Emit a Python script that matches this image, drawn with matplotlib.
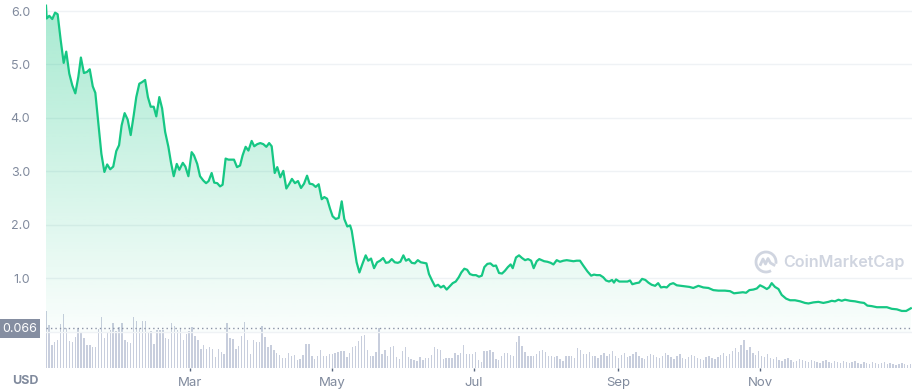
import numpy as np
import matplotlib
matplotlib.use("Agg")
from matplotlib import pyplot as plt
from matplotlib.patches import Rectangle, Arc

plt.rcParams['font.family'] = ['Inter', 'DejaVu Sans']

# days counted from 2021-12-29
price_days = [0, 0.3, 1.4, 2.7, 3.9, 5.0, 6.3, 7.6, 8.7, 10.0, 11.3, 12.6, 13.9, 15.0, 16.3, 17.6,
              18.8, 20.1, 21.2, 22.5, 23.8, 25.1, 26.3, 27.6, 28.9, 30.2, 31.4, 32.5, 33.8, 35.1,
              36.4, 37.7, 38.8, 40.1, 41.3, 42.6, 43.8, 45.0, 46.3, 47.4, 48.7, 49.9, 51.2, 52.6,
              53.7, 54.9, 56.2, 57.3, 58.8, 59.9, 61.2, 62.6, 63.6, 65.0, 66.2, 67.6, 68.8, 69.9,
              71.2, 72.3, 73.6, 74.8, 75.9, 77.2, 78.4, 79.6, 80.8, 82.1, 83.4, 84.5, 85.8, 87.0,
              88.4, 89.5, 90.8, 92.1, 93.4, 94.7, 95.9, 97.0, 98.3, 99.4, 100.7, 102.0, 103.3,
              104.6, 105.7, 107.0, 108.3, 109.6, 110.9, 112.2, 113.3, 114.6, 115.9, 117.2, 118.5,
              119.6, 120.8, 122.1, 123.2, 124.5, 125.8, 127.1, 128.2, 129.5, 130.7, 131.4, 133.5,
              134.7, 136.0, 137.4, 138.5, 139.7, 141.0, 142.3, 143.6, 144.9, 146.1, 147.3, 148.6,
              149.9, 151.2, 152.3, 153.6, 154.7, 155.9, 157.2, 158.5, 159.8, 161.1, 162.3, 163.5,
              164.6, 165.9, 167.2, 168.5, 169.7, 170.9, 172.2, 173.5, 174.8, 176.1, 177.4, 178.5,
              179.8, 181.0, 182.2, 183.5, 184.8, 186.1, 187.3, 188.4, 189.7, 191.0, 192.3, 193.4,
              194.7, 196.0, 197.2, 198.5, 199.7, 200.6, 202.0, 203.3, 204.6, 205.9, 207.2, 208.5,
              209.6, 210.9, 212.0, 214.1, 215.5, 216.9, 218.1, 219.5, 220.9, 222.4, 223.8, 225.2,
              226.7, 228.1, 229.5, 230.9, 232.7, 234.3, 235.5, 236.7, 238.1, 239.5, 240.7, 242.0,
              243.3, 244.1, 245.0, 246.4, 248.1, 249.9, 251.0, 252.0, 253.6, 254.9, 256.2, 257.6,
              258.9, 260.3, 261.8, 263.1, 264.3, 265.6, 266.8, 268.2, 269.6, 271.1, 272.8, 274.7,
              276.5, 278.2, 280.4, 282.5, 284.7, 286.8, 289.0, 291.8, 294.0, 295.7, 297.6, 299.5,
              300.9, 302.3, 304.0, 305.5, 306.9, 308.3, 309.8, 310.8, 311.9, 313.3, 314.8, 316.2,
              318.1, 319.8, 321.9, 324.1, 326.2, 327.7, 329.8, 332.0, 334.1, 336.3, 337.7, 339.1,
              340.6, 342.0, 343.4, 345.6, 347.7, 349.9, 351.6, 353.0, 354.9, 357.1, 359.2, 361.4,
              363.5, 365.7, 367.8, 369.7, 371.7]
price = [6.10, 5.86, 5.91, 5.85, 5.97, 5.94, 5.46, 5.03, 5.24, 4.83, 4.61, 4.46, 4.77, 5.13, 4.84, 4.86,
         4.91, 4.59, 4.47, 3.89, 3.33, 2.99, 3.13, 3.04, 3.09, 3.38, 3.49, 3.86, 4.09, 3.97,
         3.68, 4.05, 4.39, 4.64, 4.67, 4.71, 4.39, 4.21, 4.21, 4.03, 4.39, 4.18, 3.74, 3.46,
         3.17, 2.91, 3.14, 3.03, 3.16, 3.09, 2.91, 3.36, 3.30, 3.14, 2.91, 2.83, 2.78, 2.82,
         2.97, 2.79, 2.78, 2.72, 2.75, 3.24, 3.22, 3.22, 3.22, 3.08, 3.11, 3.30, 3.46, 3.39,
         3.57, 3.47, 3.51, 3.53, 3.51, 3.46, 3.53, 3.47, 2.97, 3.08, 2.89, 3.01, 2.68,
         2.77, 2.86, 2.78, 2.82, 2.69, 2.77, 2.92, 2.77, 2.76, 2.71, 2.76, 2.48,
         2.52, 2.49, 2.30, 2.16, 2.11, 2.13, 2.44, 2.11, 1.97, 1.99, 1.89, 1.30,
         1.11, 1.27, 1.43, 1.33, 1.37, 1.19, 1.30, 1.33, 1.38, 1.29, 1.30, 1.36,
         1.30, 1.29, 1.31, 1.43, 1.33, 1.36, 1.29, 1.28, 1.34, 1.30, 1.29, 1.28,
         1.08, 0.96, 0.85, 0.88, 0.83, 0.86, 0.79, 0.85, 0.91, 0.94, 1.02, 1.11,
         1.18, 1.16, 1.08, 1.06, 1.06, 1.03, 1.05, 1.21, 1.27, 1.28, 1.23, 1.24,
         1.10, 1.09, 1.14, 1.21, 1.26, 1.19, 1.39, 1.43, 1.38, 1.34, 1.36, 1.33,
         1.19, 1.32, 1.36, 1.32, 1.31, 1.29, 1.26, 1.34, 1.31, 1.33, 1.34, 1.33,
         1.32, 1.33, 1.33, 1.24, 1.13, 1.05, 1.07, 1.06, 1.06, 1.02, 0.96, 0.94,
         0.97, 0.92, 0.98, 0.94, 0.94, 0.94, 0.96, 0.89, 0.91, 0.92, 0.99, 0.97,
         0.92, 0.88, 0.86, 0.91, 0.83, 0.84, 0.83, 0.89, 0.91, 0.87, 0.86, 0.85,
         0.84, 0.82, 0.86, 0.83, 0.82, 0.78, 0.77, 0.77, 0.76, 0.72, 0.73, 0.74,
         0.73, 0.78, 0.79, 0.81, 0.87, 0.84, 0.80, 0.83, 0.91, 0.84, 0.80, 0.69,
         0.62, 0.59, 0.59, 0.57, 0.54, 0.53, 0.55, 0.56, 0.54, 0.56, 0.58, 0.57,
         0.60, 0.58, 0.60, 0.58, 0.57, 0.55, 0.54, 0.49, 0.48, 0.46, 0.46, 0.46,
         0.43, 0.42, 0.39, 0.39, 0.44]

# relative volume, one bar every ~1.26 days
volume = [170, 128, 70, 77, 85, 133, 163, 120, 82, 79, 94, 121, 107, 91, 70, 70, 64, 64, 116, 154,
          91, 107, 115, 136, 112, 124, 136, 85, 77, 76, 154, 142, 121, 142, 142, 106, 112, 73, 115, 115,
          115, 91, 88, 136, 127, 115, 121, 85, 103, 112, 124, 97, 85, 58, 70, 58, 64, 58, 34, 58,
          49, 43, 136, 91, 88, 58, 67, 97, 139, 85, 43, 85, 79, 79,
          125, 94, 64, 70, 55, 46, 40, 31, 31, 46, 37, 40, 25, 28, 40, 73, 73, 37, 28, 37,
          55, 37, 37, 43, 43, 46, 49, 52, 52, 34, 46, 64, 67, 82, 97, 100, 55, 37, 37, 49,
          121, 43, 55, 37, 64, 67, 34, 28, 52, 64, 34, 28, 25, 22, 34, 25, 31, 31, 40, 64,
          58, 55, 28, 31, 31, 31, 46, 40, 46, 70, 43, 43, 43, 49,
          25, 19, 52, 52, 55, 49, 28, 25, 37, 46, 46, 40, 37, 79, 97, 67, 49, 37, 37, 37,
          43, 52, 55, 49, 37, 37, 34, 37, 28, 22, 37, 37, 37, 31, 61, 55, 43, 43, 49, 37, 37, 31,
          40, 46, 37, 43, 52, 37, 31, 40, 46, 34, 37, 43, 49, 37, 31, 28, 37, 43, 40, 34,
          31, 37, 46, 40, 34, 28, 37, 43, 31, 28, 34, 40, 37, 31, 28, 25, 34, 37, 31, 28,
          34, 40, 46, 37, 43, 52, 61, 49, 70, 85, 55, 64, 46, 40, 52, 37, 34, 43, 31, 28, 34,
          25, 22, 28, 31, 25, 19, 22, 28, 25, 22, 19, 25, 22, 19, 16, 22, 25, 19, 16, 22,
          19, 16, 22, 19, 16, 19, 22, 16, 13, 19, 16, 13, 19, 16, 13, 16, 19, 13, 16, 13,
          10, 13, 16, 13, 10, 13]

tick_days = [62, 123, 184, 246, 307]
tick_labels = ['Mar', 'May', 'Jul', 'Sep', 'Nov']
y_ticks = [1, 2, 3, 4, 5, 6]
last_marker = 0.066

green = '#16c784'
grey = '#808a9d'
W, H = 916, 389
x_end = 372.2

fig = plt.figure(figsize=(W / 100, H / 100), dpi=100)
rect = [46 / W, 21 / H, 866 / W, 368 / H]

# volume bars underneath
axv = fig.add_axes(rect)
bar_x = np.linspace(0, 371.6, len(volume))
axv.bar(bar_x, volume, width=0.6, color='#c8cedd', linewidth=0)
axv.set_xlim(0, x_end)
axv.set_ylim(0, 1104)
axv.axis('off')

ax = fig.add_axes(rect)
ax.patch.set_alpha(0)
for y in [0] + y_ticks:
    ax.axhline(y, color='#eff2f5', lw=1, zorder=0)
ax.axhline(last_marker, color='#8a93a6', lw=1, ls=(0, (1, 2.2)), zorder=2)

# gradient area under the line
grad = np.zeros((256, 1, 4))
grad[..., 0], grad[..., 1], grad[..., 2] = 22 / 255, 199 / 255, 132 / 255
grad[:, 0, 3] = 0.02 + 0.36 * np.linspace(0, 1, 256)
im = ax.imshow(grad, extent=[0, x_end, 0, 6.2], origin='lower', aspect='auto',
               interpolation='bilinear', zorder=1)
area = ax.fill_between(price_days, price, 0, facecolor='none', edgecolor='none')
im.set_clip_path(area.get_paths()[0], transform=ax.transData)
ax.plot(price_days, price, color=green, lw=1.6, zorder=3, solid_joinstyle='round')

ax.set_xlim(0, x_end)
ax.set_ylim(-0.677, 6.206)
for s in ax.spines.values():
    s.set_visible(False)
ax.set_yticks(y_ticks)
ax.set_yticklabels([f'{v:.1f}' for v in y_ticks])
ax.set_xticks(tick_days)
ax.set_xticklabels(tick_labels)
ax.tick_params(axis='y', length=0, pad=11.5, labelsize=9, labelcolor=grey)
ax.tick_params(axis='x', length=2.5, width=1, color='#58667e', pad=4, labelsize=9.5, labelcolor=grey)

fig.text(12 / W, 1 - 381 / H, 'USD', fontsize=9, fontweight='bold', color=grey, va='center')
fig.patches.append(Rectangle((0, 1 - 338 / H), 40 / W, 19 / H, transform=fig.transFigure,
                             facecolor='#858ea1', edgecolor='none'))
fig.text(20 / W, 1 - 328.5 / H, '0.066', fontsize=9, color='white', ha='center', va='center')

# watermark
fig.text(783 / W, 1 - 262 / H, 'CoinMarketCap', fontsize=11.6, fontweight='semibold',
         color='#d0d5e0', va='center')
axl = fig.add_axes([754 / W, 1 - 274 / H, 24 / W, 24 / H])
axl.add_patch(Arc((0, 0), 2, 2, theta1=-10, theta2=300, color='#d0d5e0', lw=2))
axl.plot([-0.55, -0.3, -0.05, 0.2, 0.45, 0.8], [-0.25, 0.3, -0.2, 0.35, -0.1, -0.3],
         color='#d0d5e0', lw=2)
axl.set_xlim(-1.2, 1.2)
axl.set_ylim(-1.2, 1.2)
axl.axis('off')

fig.savefig('out.png', dpi=100)
